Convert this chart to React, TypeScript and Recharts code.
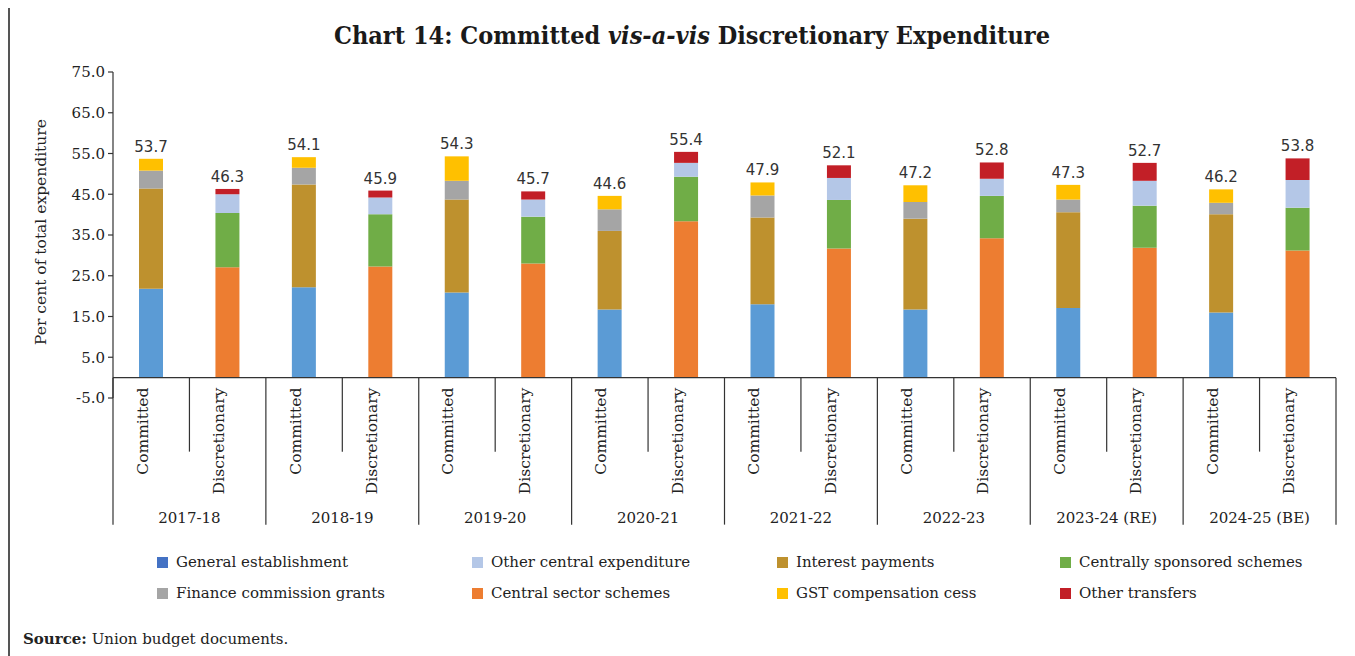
import { BarChart, Bar, XAxis, YAxis, ReferenceLine, LabelList } from "recharts";

const years = ["2017-18", "2018-19", "2019-20", "2020-21", "2021-22", "2022-23", "2023-24 (RE)", "2024-25 (BE)"];
const kinds = ["Committed", "Discretionary"];

// per cent of total expenditure, 16 bars: Committed / Discretionary for each year
const generalEstablishment = [21.8, 0, 22.2, 0, 20.9, 0, 16.7, 0, 18.0, 0, 16.7, 0, 17.1, 0, 16.0, 0];
const centralSector = [0, 27.1, 0, 27.3, 0, 28.0, 0, 38.4, 0, 31.7, 0, 34.2, 0, 31.9, 0, 31.2];
const interestPayments = [24.6, 0, 25.2, 0, 22.8, 0, 19.3, 0, 21.3, 0, 22.3, 0, 23.5, 0, 24.1, 0];
const centrallySponsored = [0, 13.3, 0, 12.8, 0, 11.5, 0, 10.9, 0, 11.9, 0, 10.4, 0, 10.3, 0, 10.5];
const financeCommission = [4.4, 0, 4.1, 0, 4.6, 0, 5.3, 0, 5.4, 0, 4.1, 0, 3.1, 0, 2.8, 0];
const otherCentral = [0, 4.6, 0, 4.1, 0, 4.2, 0, 3.4, 0, 5.4, 0, 4.2, 0, 6.1, 0, 6.8];
const gstCess = [2.9, 0, 2.6, 0, 6.0, 0, 3.3, 0, 3.2, 0, 4.1, 0, 3.6, 0, 3.3, 0];
const otherTransfers = [0, 1.3, 0, 1.7, 0, 2.0, 0, 2.7, 0, 3.1, 0, 4.0, 0, 4.4, 0, 5.3];
const totals = [53.7, 46.3, 54.1, 45.9, 54.3, 45.7, 44.6, 55.4, 47.9, 52.1, 47.2, 52.8, 47.3, 52.7, 46.2, 53.8];

const yTicks = [-5, 5, 15, 25, 35, 45, 55, 65, 75];

const series = [
  { key: "ge", name: "General establishment", values: generalEstablishment, color: "#5B9BD5", legend: "#4472C4" },
  { key: "cs", name: "Central sector schemes", values: centralSector, color: "#ED7D31", legend: "#ED7D31" },
  { key: "ip", name: "Interest payments", values: interestPayments, color: "#BE912E", legend: "#BE912E" },
  { key: "css", name: "Centrally sponsored schemes", values: centrallySponsored, color: "#70AD47", legend: "#70AD47" },
  { key: "fc", name: "Finance commission grants", values: financeCommission, color: "#A5A5A5", legend: "#A5A5A5" },
  { key: "oc", name: "Other central expenditure", values: otherCentral, color: "#B4C7E7", legend: "#B4C7E7" },
  { key: "gst", name: "GST compensation cess", values: gstCess, color: "#FFC000", legend: "#FFC000" },
  { key: "ot", name: "Other transfers", values: otherTransfers, color: "#C21F27", legend: "#C21F27" },
];

const legendOrder = ["ge", "oc", "ip", "css", "fc", "cs", "gst", "ot"];

const data = totals.map((total, i) => {
  const row: any = { key: years[Math.floor(i / 2)] + "|" + kinds[i % 2], total };
  series.forEach((s) => (row[s.key] = s.values[i]));
  return row;
});

const SERIF = "'DejaVu Serif', serif";
const CHART_W = 1347;
const M_TOP = 64;
const M_LEFT = 45;
const M_RIGHT = 19;
const Y_W = 60;
const PLOT_H = 326;
const X_H = 150;
const PLOT_W = CHART_W - M_LEFT - Y_W - M_RIGHT;
const BAND = PLOT_W / data.length;
const ZERO_Y = M_TOP + (PLOT_H * 75) / 80;

function CategoryTick(props: any) {
  const { x, index } = props;
  const committed = index % 2 === 0;
  const left = x - BAND / 2;
  return (
    <g>
      <line x1={left} x2={left} y1={ZERO_Y} y2={committed ? ZERO_Y + 147 : ZERO_Y + 74} stroke="#333" strokeWidth={1.2} />
      {index === data.length - 1 && (
        <line x1={x + BAND / 2} x2={x + BAND / 2} y1={ZERO_Y} y2={ZERO_Y + 147} stroke="#333" strokeWidth={1.2} />
      )}
      <g transform={`translate(${x - 9}, ${ZERO_Y + 10}) rotate(-90)`}>
        <text textAnchor="end" dy="0.35em" fontSize={15.5} fontFamily={SERIF} fill="#222">
          {kinds[index % 2]}
        </text>
      </g>
      {committed && (
        <text x={x + BAND / 2} y={ZERO_Y + 145.5} textAnchor="middle" fontSize={15} fontFamily={SERIF} fill="#222">
          {years[index / 2]}
        </text>
      )}
    </g>
  );
}

// total above the top segment of each stack (skip empty segments)
function TotalLabel(props: any) {
  const { x, y, width, height, value } = props;
  if (!height || Math.abs(height) < 0.01) return null;
  return (
    <text
      x={x + width / 2}
      y={y - 7}
      textAnchor="middle"
      fontSize={15}
      fontFamily="'DejaVu Sans', sans-serif"
      fill="#333"
    >
      {Number(value).toFixed(1)}
    </text>
  );
}

export default function App() {
  const items = legendOrder.map((k) => series.find((s) => s.key === k)!);
  const colX = [149, 464, 769, 1052];
  return (
    <div style={{ position: "relative", width: CHART_W, height: 648, fontFamily: SERIF, color: "#222" }}>
      <div style={{ position: "absolute", left: 0, top: -2, width: CHART_W, height: 2, background: "#555" }} />
      <div style={{ position: "absolute", left: 0, top: -2, width: 1.5, height: 652, background: "#555" }} />
      <div
        style={{
          position: "absolute",
          left: 684 - 500,
          width: 1000,
          top: 13,
          lineHeight: "30px",
          textAlign: "center",
          fontSize: 25,
          fontWeight: "bold",
          fontStretch: "condensed",
          color: "#1a1a1a",
        }}
      >
        Chart 14: Committed <i>vis-a-vis</i> Discretionary Expenditure
      </div>
      <div
        style={{
          position: "absolute",
          left: 33,
          top: 224,
          transform: "translate(-50%, -50%) rotate(-90deg)",
          whiteSpace: "nowrap",
          fontSize: 15.5,
        }}
      >
        Per cent of total expenditure
      </div>
      <div style={{ position: "absolute", left: 0, top: 0 }}>
        <BarChart
          width={CHART_W}
          height={M_TOP + PLOT_H + X_H}
          data={data}
          margin={{ top: M_TOP, right: M_RIGHT, left: M_LEFT, bottom: 0 }}
          barSize={24}
        >
          <XAxis
            dataKey="key"
            axisLine={false}
            tickLine={false}
            tickSize={0}
            tickMargin={0}
            interval={0}
            height={X_H}
            tick={<CategoryTick />}
          />
          <YAxis
            domain={[-5, 75]}
            ticks={yTicks}
            width={Y_W}
            tickFormatter={(v: number) => v.toFixed(1)}
            axisLine={{ stroke: "#333", strokeWidth: 1.2 }}
            tickLine={{ stroke: "#333", strokeWidth: 1.2 }}
            tickSize={5}
            tickMargin={3}
            tick={{ fontSize: 15, fontFamily: SERIF, fill: "#222" }}
          />
          {series.map((s) => (
            <Bar key={s.key} dataKey={s.key} name={s.name} stackId="a" fill={s.color} isAnimationActive={false}>
              {(s.key === "ot" || s.key === "gst") && <LabelList dataKey="total" content={<TotalLabel />} />}
            </Bar>
          ))}
          <ReferenceLine y={0} stroke="#333" strokeWidth={1.2} />
        </BarChart>
      </div>
      {items.map((s, i) => (
        <div
          key={s.key}
          style={{
            position: "absolute",
            left: colX[i % 4],
            top: i < 4 ? 544 : 575,
            display: "flex",
            alignItems: "center",
            fontSize: 15,
            lineHeight: "20px",
            whiteSpace: "nowrap",
          }}
        >
          <span style={{ display: "inline-block", width: 11, height: 11, background: s.legend, marginRight: 8 }} />
          {s.name}
        </div>
      ))}
      <div style={{ position: "absolute", left: 15, top: 621, fontSize: 15, lineHeight: "20px", whiteSpace: "nowrap" }}>
        <b>Source:</b> Union budget documents.
      </div>
    </div>
  );
}
